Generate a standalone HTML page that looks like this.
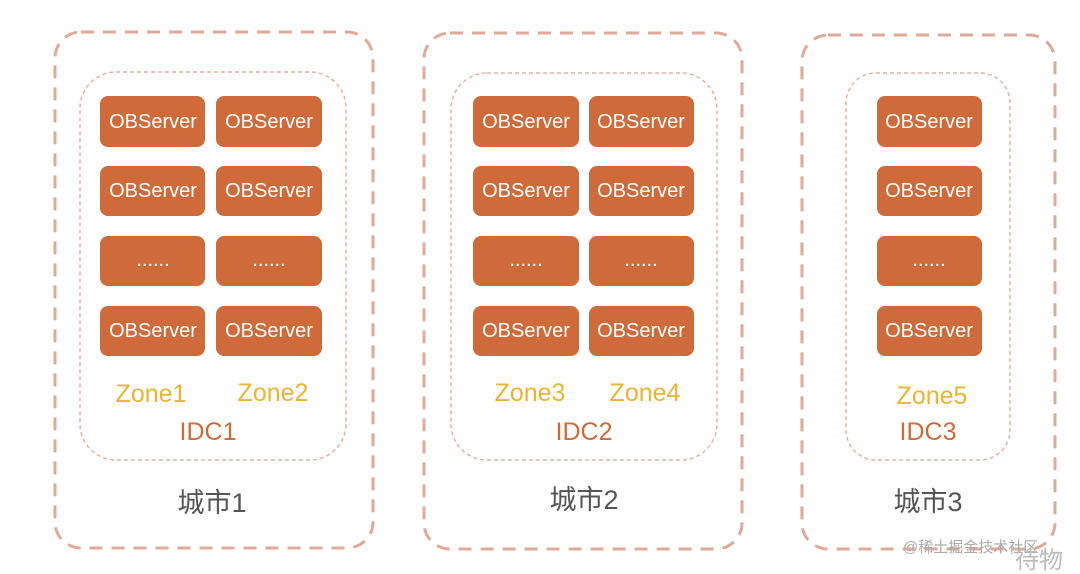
<!DOCTYPE html>
<html><head><meta charset="utf-8"><style>
html,body{margin:0;padding:0;background:#fff;}
svg{display:block}
.o{fill:none;stroke:#e0aa98;stroke-width:3;stroke-dasharray:13 9}
.i{fill:none;stroke:#e2b4a6;stroke-width:1.5;stroke-dasharray:4 3}
.s{fill:#cf6a3b}
.t{fill:#fff;font-family:"Liberation Sans",sans-serif;font-size:20px;text-anchor:middle}
.z{fill:#ebb431;font-family:"Liberation Sans",sans-serif;font-size:25px;text-anchor:middle}
.d{fill:#cf6a3b;font-family:"Liberation Sans",sans-serif;font-size:25px;text-anchor:middle}
.c{fill:#555;font-family:"Liberation Sans","Noto Sans CJK SC",sans-serif;font-size:27px;text-anchor:middle}
</style></head><body>
<svg width="1080" height="574" viewBox="0 0 1080 574" xmlns="http://www.w3.org/2000/svg">
<rect class="o" x="55" y="32" width="318" height="516" rx="26"/>
<rect class="o" x="424" y="33" width="318" height="516" rx="26"/>
<rect class="o" x="802" y="35" width="253" height="514" rx="26"/>
<rect class="i" x="80" y="72" width="266" height="388" rx="36"/>
<rect class="i" x="451" y="73" width="266" height="387" rx="36"/>
<rect class="i" x="846" y="73" width="164" height="387" rx="30"/>
<g>
<rect class="s" x="100" y="96" width="105" height="51" rx="8"/><rect class="s" x="216" y="96" width="106" height="51" rx="8"/>
<rect class="s" x="100" y="166" width="105" height="50" rx="8"/><rect class="s" x="216" y="166" width="106" height="50" rx="8"/>
<rect class="s" x="100" y="236" width="105" height="50" rx="8"/><rect class="s" x="216" y="236" width="106" height="50" rx="8"/>
<rect class="s" x="100" y="306" width="105" height="50" rx="8"/><rect class="s" x="216" y="306" width="106" height="50" rx="8"/>
<rect class="s" x="473" y="96" width="106" height="51" rx="8"/><rect class="s" x="589" y="96" width="105" height="51" rx="8"/>
<rect class="s" x="473" y="166" width="106" height="50" rx="8"/><rect class="s" x="589" y="166" width="105" height="50" rx="8"/>
<rect class="s" x="473" y="236" width="106" height="50" rx="8"/><rect class="s" x="589" y="236" width="105" height="50" rx="8"/>
<rect class="s" x="473" y="306" width="106" height="50" rx="8"/><rect class="s" x="589" y="306" width="105" height="50" rx="8"/>
<rect class="s" x="877" y="96" width="105" height="51" rx="8"/>
<rect class="s" x="877" y="166" width="105" height="50" rx="8"/>
<rect class="s" x="877" y="236" width="105" height="50" rx="8"/>
<rect class="s" x="877" y="306" width="105" height="50" rx="8"/>
</g>
<g class="t">
<text x="153" y="128">OBServer</text><text x="269" y="128">OBServer</text>
<text x="153" y="197">OBServer</text><text x="269" y="197">OBServer</text>
<text x="153" y="266">......</text><text x="269" y="266">......</text>
<text x="153" y="337">OBServer</text><text x="269" y="337">OBServer</text>
<text x="526" y="128">OBServer</text><text x="641" y="128">OBServer</text>
<text x="526" y="197">OBServer</text><text x="641" y="197">OBServer</text>
<text x="526" y="266">......</text><text x="641" y="266">......</text>
<text x="526" y="337">OBServer</text><text x="641" y="337">OBServer</text>
<text x="929" y="128">OBServer</text>
<text x="929" y="197">OBServer</text>
<text x="929" y="266">......</text>
<text x="929" y="337">OBServer</text>
</g>
<text class="z" x="151" y="402">Zone1</text><text class="z" x="273" y="401">Zone2</text>
<text class="z" x="530" y="401">Zone3</text><text class="z" x="645" y="401">Zone4</text>
<text class="z" x="932" y="404">Zone5</text>
<text class="d" x="208" y="440">IDC1</text><text class="d" x="584" y="440">IDC2</text><text class="d" x="928" y="440">IDC3</text>
<text class="c" x="212" y="512">城市1</text><text class="c" x="584" y="509">城市2</text><text class="c" x="928" y="511">城市3</text>
<text x="903" y="552" style="fill:#aaa;font-family:'Liberation Sans','Noto Sans CJK SC',sans-serif;font-size:15px">@稀土掘金技术社区</text>
<text x="1015" y="568" style="fill:#bbb;font-family:'Noto Sans CJK SC',sans-serif;font-size:24px">待物</text>
</svg>
</body></html>
